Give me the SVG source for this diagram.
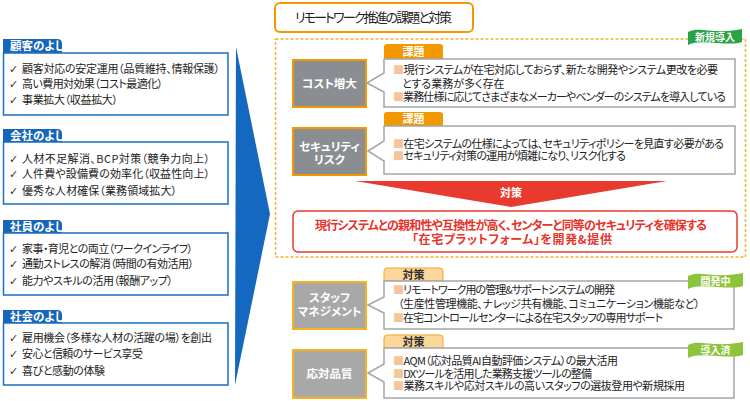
<svg xmlns="http://www.w3.org/2000/svg" width="750" height="401" viewBox="0 0 750 401">
<style>
text{font-family:'Noto Sans CJK JP','Noto Sans',sans-serif;font-feature-settings:"palt";}
.lt{font-size:11px;fill:#222;}
.ck{font-size:11px;fill:#333;font-family:'DejaVu Sans',sans-serif;}
.tab{font-size:11.5px;font-weight:bold;fill:#fff;}
.lbox{fill:#fff;stroke:#1a6fc0;stroke-width:1.5;}
.ltab{fill:#1565b8;}
.bt{font-size:11px;fill:#222;}
.sq{fill:#f6c49a;}
.cb{fill:#fff;stroke:#a3a7ab;stroke-width:1.5;}
.k1{fill:#8a8e92;stroke:#f39800;stroke-width:2;}
.k2{fill:#a8a8a8;stroke:#f6b31c;stroke-width:2;}
.kt{font-size:11.5px;font-weight:bold;fill:#fff;text-anchor:middle;}
.ot{fill:#f39800;}
.ot2{fill:#fcd79c;stroke:#f5a623;stroke-width:1;}
.ott{font-size:11px;font-weight:bold;text-anchor:middle;}
.flag{font-size:10px;font-weight:bold;fill:#fff;text-anchor:middle;}
</style>
<rect width="750" height="401" fill="#fff"/>

<g id="good-customer">
<path class="ltab" d="M3,53 V39 H57 Q62,39 62,44 V53 Z"/>
<text class="tab" x="10" y="50">顧客のよし</text>
<rect class="lbox" x="3.5" y="53" width="224.5" height="62"/>
<text class="ck" x="9" y="72.5">✓</text><text class="lt" x="22" y="72.5" textLength="198">顧客対応の安定運用（品質維持、情報保護）</text>
<text class="ck" x="9" y="88">✓</text><text class="lt" x="22" y="88" textLength="141">高い費用対効果（コスト最適化）</text>
<text class="ck" x="9" y="104">✓</text><text class="lt" x="22" y="104" textLength="96">事業拡大（収益拡大）</text>
</g>

<g id="good-company">
<path class="ltab" d="M3,142 V129 H57 Q62,129 62,134 V142 Z"/>
<text class="tab" x="10" y="140">会社のよし</text>
<rect class="lbox" x="3.5" y="142" width="224.5" height="62"/>
<text class="ck" x="9" y="162.5">✓</text><text class="lt" x="22" y="162.5" textLength="188">人材不足解消、BCP対策（競争力向上）</text>
<text class="ck" x="9" y="178">✓</text><text class="lt" x="22" y="178" textLength="188">人件費や設備費の効率化（収益性向上）</text>
<text class="ck" x="9" y="195">✓</text><text class="lt" x="22" y="195" textLength="155">優秀な人材確保（業務領域拡大）</text>
</g>

<g id="good-staff">
<path class="ltab" d="M3,233 V220 H57 Q62,220 62,225 V233 Z"/>
<text class="tab" x="10" y="231">社員のよし</text>
<rect class="lbox" x="3.5" y="233" width="224.5" height="62"/>
<text class="ck" x="9" y="252.5">✓</text><text class="lt" x="22" y="252.5" textLength="171">家事・育児との両立（ワークインライフ）</text>
<text class="ck" x="9" y="268">✓</text><text class="lt" x="22" y="268" textLength="172">通勤ストレスの解消（時間の有効活用）</text>
<text class="ck" x="9" y="284.5">✓</text><text class="lt" x="22" y="284.5" textLength="151">能力やスキルの活用（報酬アップ）</text>
</g>

<g id="good-society">
<path class="ltab" d="M3,323 V310 H57 Q62,310 62,315 V323 Z"/>
<text class="tab" x="10" y="321">社会のよし</text>
<rect class="lbox" x="3.5" y="323" width="224.5" height="62"/>
<text class="ck" x="9" y="341.5">✓</text><text class="lt" x="22" y="341.5" textLength="190">雇用機会（多様な人材の活躍の場）を創出</text>
<text class="ck" x="9" y="358">✓</text><text class="lt" x="22" y="358" textLength="121">安心と信頼のサービス享受</text>
<text class="ck" x="9" y="375">✓</text><text class="lt" x="22" y="375" textLength="83">喜びと感動の体験</text>
</g>

<g id="connectors">
<polygon points="236,47 270,214 235,385" fill="#1568c0"/>
</g>

<g id="title">
<rect x="275" y="3" width="198" height="29" rx="5" fill="#fff" stroke="#f39800" stroke-width="2"/>
<text x="295" y="22" font-size="13" fill="#222" textLength="157">リモートワーク推進の課題と対策</text>
</g>

<g id="new-section">
<rect x="275.5" y="39" width="470" height="218" fill="none" stroke="#f6b02a" stroke-width="1.5" stroke-dasharray="3,2"/>
<path d="M688,32 C700,26 712,35 742,29 L742,42 C730,47 700,38 688,45 Z" fill="#2aa344"/>
<text class="flag" x="715" y="41">新規導入</text>
</g>

<g id="cost">
<rect class="k1" x="293" y="60" width="73" height="47"/>
<text class="kt" x="329.5" y="88">コスト増大</text>
<path class="ot" d="M384,59 V47 Q384,44 387,44 H440 Q443,44 443,47 V59 Z"/>
<text class="ott" x="413.5" y="55.5" fill="#fff">課題</text>
<path class="cb" d="M384,59 H735 V107 H384 V92 L367,83 L384,73 Z"/>
<text class="bt" x="393" y="74" textLength="325"><tspan class="sq">■</tspan>現行システムが在宅対応しておらず、新たな開発やシステム更改を必要</text>
<text class="bt" x="402" y="87.5">とする業務が多く存在</text>
<text class="bt" x="393" y="101" textLength="333"><tspan class="sq">■</tspan>業務仕様に応じてさまざまなメーカーやベンダーのシステムを導入している</text>
</g>

<g id="security">
<rect class="k1" x="293" y="128" width="73" height="47"/>
<text class="kt" x="329.5" y="151">セキュリティ</text>
<text class="kt" x="329.5" y="164">リスク</text>
<path class="ot" d="M384,126 V115 Q384,112 387,112 H440 Q443,112 443,115 V126 Z"/>
<text class="ott" x="413.5" y="123" fill="#fff">課題</text>
<path class="cb" d="M384,126 H735 V174 H384 V161 L368,151 L384,141 Z"/>
<text class="bt" x="393" y="148" textLength="331"><tspan class="sq">■</tspan>在宅システムの仕様によっては、セキュリティポリシーを見直す必要がある</text>
<text class="bt" x="393" y="159.5" textLength="233"><tspan class="sq">■</tspan>セキュリティ対策の運用が煩雑になり、リスク化する</text>
</g>

<g id="measure">
<polygon points="355,181 667,181 511,207" fill="#e83a2e"/>
<text x="511" y="197" font-size="11" font-weight="bold" fill="#fff" text-anchor="middle">対策</text>
<rect x="293" y="211" width="444" height="41" rx="5" fill="#fff" stroke="#e83a2e" stroke-width="1.5"/>
<text x="511" y="229.5" font-size="12" font-weight="bold" fill="#e8322a" text-anchor="middle" textLength="392">現行システムとの親和性や互換性が高く、センターと同等のセキュリティを確保する</text>
<text x="512" y="243.5" font-size="12" font-weight="bold" fill="#e8322a" text-anchor="middle" textLength="200">「在宅プラットフォーム」を開発&amp;提供</text>
</g>

<g id="staff-management">
<rect class="k2" x="293" y="282" width="73" height="47"/>
<text class="kt" x="329.5" y="302">スタッフ</text>
<text class="kt" x="329.5" y="316">マネジメント</text>
<path class="ot2" d="M384,281 V271 Q384,268 387,268 H440 Q443,268 443,271 V281 Z"/>
<text class="ott" x="413.5" y="278.5" fill="#333">対策</text>
<path class="cb" d="M384,281 H734 V329 H384 V313 L368,305 L384,297 Z"/>
<path d="M688,276 C700,270 712,279 743,273 L743,286 C731,291 700,282 688,289 Z" fill="#8cc43c"/>
<text class="flag" x="715.5" y="284.5">開発中</text>
<text class="bt" x="393" y="294" textLength="222"><tspan class="sq">■</tspan>リモートワーク用の管理&amp;サポートシステムの開発</text>
<text class="bt" x="398" y="307.5" textLength="302">（生産性管理機能、ナレッジ共有機能、コミュニケーション機能など）</text>
<text class="bt" x="393" y="322" textLength="270"><tspan class="sq">■</tspan>在宅コントロールセンターによる在宅スタッフの専用サポート</text>
</g>

<g id="response-quality">
<rect class="k2" x="293" y="350" width="73" height="48"/>
<text class="kt" x="329.5" y="377.5">応対品質</text>
<path class="ot2" d="M384,348 V338 Q384,335 387,335 H440 Q443,335 443,338 V348 Z"/>
<text class="ott" x="413.5" y="345.5" fill="#333">対策</text>
<path class="cb" d="M384,348 H734 V398 H384 V382 L368,373 L384,364 Z"/>
<path d="M688,345 C700,339 712,348 743,342 L743,355 C731,360 700,351 688,358 Z" fill="#8cc43c"/>
<text class="flag" x="715.5" y="353.5">導入済</text>
<text class="bt" x="393" y="365" textLength="225"><tspan class="sq">■</tspan>AQM（応対品質AI自動評価システム）の最大活用</text>
<text class="bt" x="393" y="377.5" textLength="199"><tspan class="sq">■</tspan>DXツールを活用した業務支援ツールの整備</text>
<text class="bt" x="393" y="390" textLength="292"><tspan class="sq">■</tspan>業務スキルや応対スキルの高いスタッフの選抜登用や新規採用</text>
</g>
</svg>
